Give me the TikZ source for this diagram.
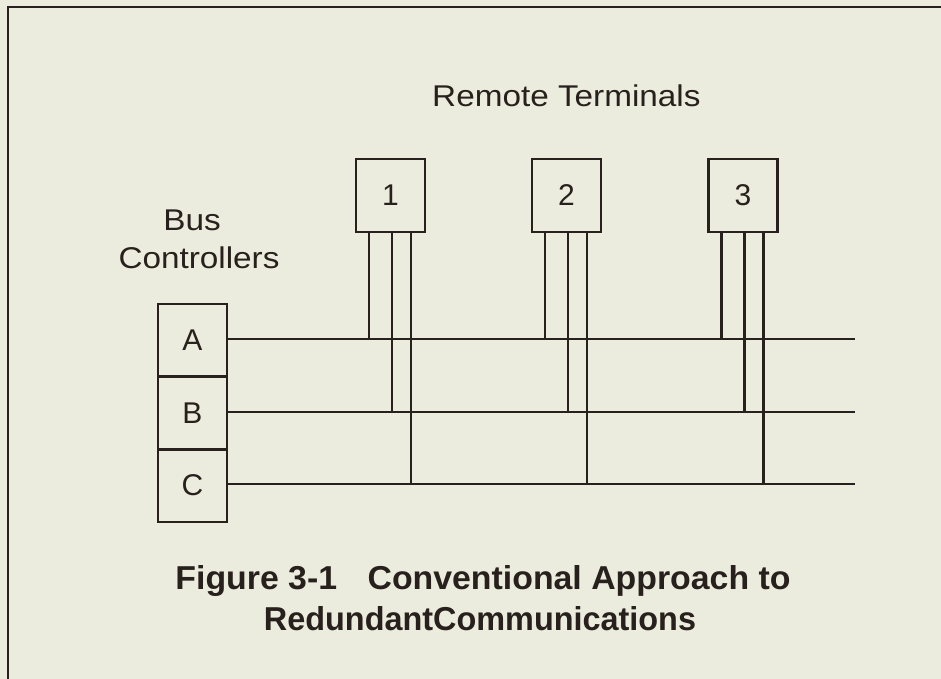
\documentclass[tikz,border=0pt]{standalone}
\usepackage{fontspec}
\setmainfont{Liberation Sans}
\usepackage{graphicx}
\definecolor{paper}{RGB}{236,236,222}
\definecolor{ink}{RGB}{40,32,28}
\newcommand{\lblfont}{\fontsize{30}{35}\selectfont}
\newcommand{\wide}[1]{\scalebox{1.11}[1]{#1}}
\begin{document}
\begin{tikzpicture}[x=1pt,y=-1pt,line width=2.4pt,draw=ink,text=ink,
  unitbox/.style={draw=ink,line width=2.4pt,minimum width=69pt,minimum height=73pt,inner sep=0pt,font=\lblfont},
  lbl/.style={inner sep=0pt,font=\lblfont,text=ink},
  captext/.style={inner sep=0pt,anchor=base,text=ink},
  wire/.style={draw=ink,line width=2.4pt}]
\fill[paper] (0,0) rectangle (941,679);
\useasboundingbox (0,0) rectangle (941,679);
% frame
\coordinate (fTR) at (941,7);
\coordinate (fTL) at (8,7);
\coordinate (fBL) at (8,679);
\draw[line width=2.2pt] (fTR) -- (fTL) -- (fBL);
% bus controllers
\node[unitbox] (A) at (192.5,340.5) {A};
\node[unitbox] (B) at (192.5,413) {B};
\node[unitbox] (C) at (192.5,485.5) {C};
% remote terminals
\node[unitbox] (r1) at (390.5,195.5) {1};
\node[unitbox] (r2) at (566.5,195.5) {2};
\node[unitbox] (r3) at (743,195.5) {3};
% bus end points
\coordinate (eA) at (855,339);
\coordinate (eB) at (855,412);
\coordinate (eC) at (855,484);
\draw[wire] (A.east |- eA) -- (eA);
\draw[wire] (B.east |- eB) -- (eB);
\draw[wire] (C.east |- eC) -- (eC);
% stubs
\foreach \r in {r1,r2,r3}{
  \draw[wire] ([xshift=-21.5pt]\r.south) -- ([xshift=-21.5pt]\r.south |- eA);
  \draw[wire] ([xshift=1.5pt]\r.south) -- ([xshift=1.5pt]\r.south |- eB);
  \draw[wire] ([xshift=20.5pt]\r.south) -- ([xshift=20.5pt]\r.south |- eC);
}
% labels
\node[lbl,anchor=base west] (rt) at (431,107) {\wide{Remote Terminals}};
\node[lbl,anchor=base] (bus) at (192,230) {\wide{Bus}};
\node[lbl,anchor=base] (ctl) at (199,268) {\wide{Controllers}};
% caption
\node[captext] (cap1) at (483,589) {\resizebox{615pt}{24pt}{\bfseries Figure 3-1\hspace{0.9em}Conventional Approach to}};
\node[captext] (cap2) at (480,630) {\resizebox{432pt}{24pt}{\bfseries RedundantCommunications}};
\end{tikzpicture}
\end{document}
